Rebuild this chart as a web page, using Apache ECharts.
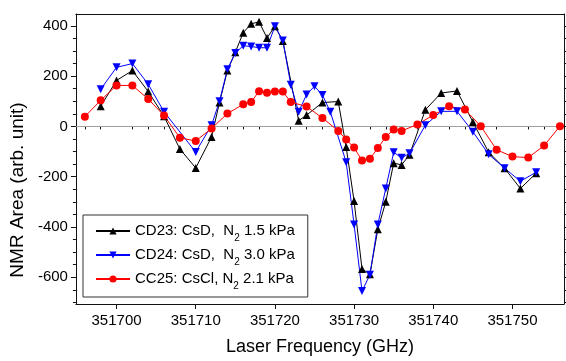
<!DOCTYPE html>
<html>
<head>
<meta charset="utf-8">
<script src="https://cdn.jsdelivr.net/npm/echarts@6/dist/echarts.min.js"></script>
<style>html,body{margin:0;padding:0;background:#fff}#c{width:566px;height:361px}</style>
</head>
<body>
<div id="c"></div>
<script>
// ---- data ----
const cd23X = [351698,351700,351702,351704,351706,351708,351710,351712,351713,351714,351715,351716,351717,351718,351719,351720,351721,351723,351724,351726,351728,351729,351730,351731,351732,351733,351734,351735,351736,351737,351739,351741,351743,351745,351747,351749,351751,351753];
const cd23Y = [80,183,222,139,40,-90,-165,-42,95,222,295,373,408,416,352,398,340,23,45,95,99,-82,-297,-567,-588,-409,-300,-146,-153,-113,66,133,141,18,-103,-166,-247,-186];
const cd24X = [351698,351700,351702,351704,351706,351710,351712,351713,351714,351715,351716,351717,351718,351719,351720,351721,351722,351723,351724,351725,351726,351727,351729,351730,351731,351732,351733,351734,351735,351736,351737,351739,351741,351743,351745,351747,351749,351751,351753];
const cd24Y = [148,235,250,168,58,-102,5,100,227,292,321,318,313,313,398,342,166,58,127,160,125,58,-142,-390,-655,-590,-390,-247,-103,-125,-107,5,60,60,-21,-111,-166,-218,-182];
const cc25X = [351696,351698,351700,351702,351704,351706,351708,351710,351712,351714,351716,351717,351718,351719,351720,351721,351722,351724,351726,351728,351729,351730,351731,351732,351733,351734,351735,351736,351738,351740,351742,351744,351746,351748,351750,351752,351754,351756];
const cc25Y = [39,104,163,163,109,43,-45,-58,-8,51,88,97,140,134,139,139,97,79,34,-18,-52,-84,-136,-129,-86,-42,-12,-18,8,45,80,67,1,-93,-120,-124,-76,1];
const xMajor = [351700,351710,351720,351730,351740,351750];
const xMinor = [351696,351698,351702,351704,351706,351708,351712,351714,351716,351718,351722,351724,351726,351728,351732,351734,351736,351738,351742,351744,351746,351748,351752,351754,351756];
const yMajor = [-600,-400,-200,0,200,400];
const yMinor = [-700,-650,-550,-500,-450,-350,-300,-250,-150,-100,-50,50,100,150,250,300,350];
const seriesNames = ['CD23','CD24','CC25'];
const legendLabels = {
  CD23: 'CD23: CsD,  N{sub|2} 1.5 kPa',
  CD24: 'CD24: CsD,  N{sub|2} 3.0 kPa',
  CC25: 'CC25: CsCl, N{sub|2} 2.1 kPa'
};

const FONT = "'Liberation Sans', Arial, Helvetica, sans-serif";
const X_MIN = 351694.87, X_MAX = 351756.51;
const Y_MIN = -706.3, Y_MAX = 447.2;
const AX = '#111';

function pairs(xs, ys) { return xs.map((x, i) => [x, ys[i]]); }

const chart = echarts.init(document.getElementById('c'), null, {renderer: 'canvas', width: 566, height: 361});

function xAxisBase(extra) {
  return Object.assign({
    type: 'value', min: X_MIN, max: X_MAX, gridIndex: 0,
    splitLine: {show: false},
    axisLine: {show: false, lineStyle: {color: AX, width: 1}},
    axisTick: {show: false},
    axisLabel: {show: false}
  }, extra);
}
function yAxisBase(extra) {
  return Object.assign({
    type: 'value', min: Y_MIN, max: Y_MAX, gridIndex: 0,
    splitLine: {show: false},
    axisLine: {show: false, lineStyle: {color: AX, width: 1}},
    axisTick: {show: false},
    axisLabel: {show: false}
  }, extra);
}

const option = {
  animation: false,
  backgroundColor: '#fff',
  textStyle: {fontFamily: FONT},
  grid: {left: 75, right: 2, top: 14, bottom: 54, containLabel: false},
  xAxis: [
    xAxisBase({
      position: 'bottom',
      axisLine: {show: true, onZero: false, lineStyle: {color: AX, width: 1}},
      axisTick: {show: true, inside: false, length: 5, customValues: xMajor, lineStyle: {color: AX}},
      axisLabel: {show: true, customValues: xMajor, fontSize: 15, color: '#000', fontFamily: FONT, margin: 9,
        formatter: v => String(Math.round(v))},
      name: 'Laser Frequency (GHz)', nameLocation: 'middle', nameGap: 34,
      nameTextStyle: {fontSize: 18, color: '#000', fontFamily: FONT}
    }),
    xAxisBase({
      position: 'bottom',
      axisTick: {show: true, inside: false, length: 3, customValues: xMinor, lineStyle: {color: AX}}
    }),
    xAxisBase({
      position: 'top',
      axisLine: {show: true, onZero: false, lineStyle: {color: AX, width: 1}}
    })
  ],
  yAxis: [
    yAxisBase({
      position: 'left',
      axisLine: {show: true, onZero: false, lineStyle: {color: AX, width: 1}},
      axisTick: {show: true, inside: false, length: 5, customValues: yMajor, lineStyle: {color: AX}},
      axisLabel: {show: true, customValues: yMajor, fontSize: 15, color: '#000', fontFamily: FONT, margin: 8,
        formatter: v => String(Math.round(v))},
      name: 'NMR Area (arb. unit)', nameLocation: 'middle', nameGap: 45,
      nameTextStyle: {fontSize: 19, color: '#000', fontFamily: FONT, padding: [0, 62, 0, 0]}
    }),
    yAxisBase({
      position: 'left',
      axisTick: {show: true, inside: false, length: 3, customValues: yMinor, lineStyle: {color: AX}}
    }),
    yAxisBase({
      position: 'right',
      axisLine: {show: true, onZero: false, lineStyle: {color: AX, width: 1}},
      axisTick: {show: true, inside: false, length: 4, customValues: yMajor, lineStyle: {color: AX}}
    }),
    yAxisBase({
      position: 'right',
      axisTick: {show: true, inside: false, length: 2, customValues: yMinor, lineStyle: {color: AX}}
    })
  ],
  legend: {
    left: 83, top: 215, orient: 'vertical',
    padding: [4, 13, 6, 12], itemGap: 0,
    itemWidth: 34, itemHeight: 9,
    borderColor: '#333', borderWidth: 1, backgroundColor: '#fff',
    data: seriesNames,
    formatter: n => legendLabels[n],
    textStyle: {
      fontFamily: FONT, fontSize: 15, color: '#000', lineHeight: 24,
      rich: {sub: {fontFamily: FONT, fontSize: 10, lineHeight: 10, verticalAlign: 'bottom', color: '#000'}}
    }
  },
  series: [
    {
      name: 'CD23', type: 'line', xAxisIndex: 0, yAxisIndex: 0,
      data: pairs(cd23X, cd23Y),
      symbol: 'triangle', symbolSize: 8,
      lineStyle: {color: '#000', width: 1}, itemStyle: {color: '#000'},
      markLine: {
        silent: true, symbol: 'none', label: {show: false},
        lineStyle: {color: '#a0a0a0', width: 1, type: 'solid'},
        data: [{yAxis: 0}], z: 1
      }
    },
    {
      name: 'CD24', type: 'line', xAxisIndex: 0, yAxisIndex: 0,
      data: pairs(cd24X, cd24Y),
      symbol: 'triangle', symbolRotate: 180, symbolSize: 8,
      lineStyle: {color: '#0000ff', width: 1}, itemStyle: {color: '#0000ff'}
    },
    {
      name: 'CC25', type: 'line', xAxisIndex: 0, yAxisIndex: 0,
      data: pairs(cc25X, cc25Y),
      symbol: 'circle', symbolSize: 8,
      lineStyle: {color: '#ff0000', width: 1}, itemStyle: {color: '#ff0000'}
    }
  ]
};
chart.setOption(option);
</script>
</body>
</html>
